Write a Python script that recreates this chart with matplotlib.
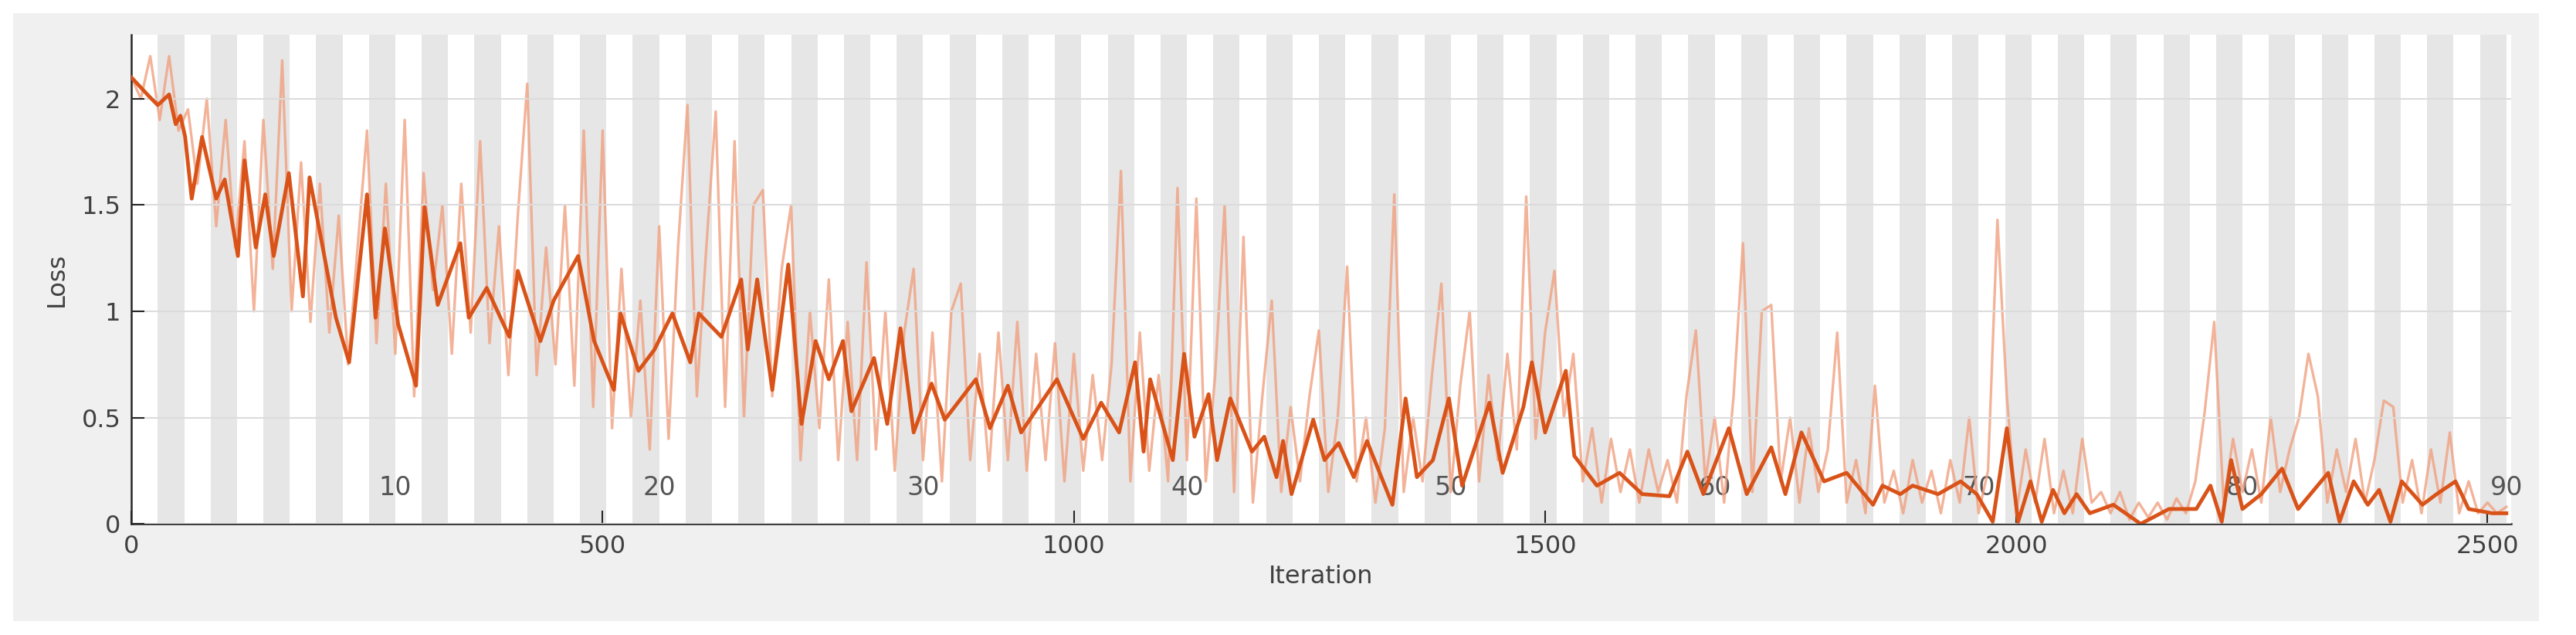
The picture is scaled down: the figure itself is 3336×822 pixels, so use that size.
import numpy as np
import matplotlib.pyplot as plt
from matplotlib.patches import Rectangle

iters_per_epoch = 28
n_epochs = 90
epoch_labels = [10, 20, 30, 40, 50, 60, 70, 80, 90]

# raw loss, sampled every 10 iterations (0..2520)
raw_step = 10
raw_loss = [
    2.1, 2.0, 2.2, 1.9, 2.2, 1.85, 1.95, 1.6, 2.0, 1.4,
    1.9, 1.3, 1.8, 1.0, 1.9, 1.2, 2.18, 1.0, 1.7, 0.95,
    1.6, 0.9, 1.45, 0.75, 1.3, 1.85, 0.85, 1.6, 0.8, 1.9,
    0.6, 1.65, 1.1, 1.5, 0.8, 1.6, 0.9, 1.8, 0.85, 1.4,
    0.7, 1.45, 2.07, 0.7, 1.3, 0.75, 1.5, 0.65, 1.85, 0.55,
    1.85, 0.45, 1.2, 0.5, 1.05, 0.35, 1.4, 0.4, 1.3, 1.97,
    0.6, 1.3, 1.94, 0.55, 1.8, 0.5, 1.5, 1.57, 0.6, 1.2,
    1.5, 0.3, 1.0, 0.45, 1.15, 0.3, 0.95, 0.3, 1.23, 0.35,
    1.0, 0.25, 0.9, 1.2, 0.3, 0.9, 0.2, 1.0, 1.13, 0.3,
    0.8, 0.25, 0.9, 0.3, 0.95, 0.25, 0.8, 0.3, 0.85, 0.2,
    0.8, 0.25, 0.7, 0.3, 0.75, 1.66, 0.2, 0.9, 0.25, 0.7,
    0.2, 1.58, 0.3, 1.53, 0.2, 0.7, 1.5, 0.15, 1.35, 0.1,
    0.6, 1.05, 0.15, 0.55, 0.2, 0.6, 0.91, 0.15, 0.5, 1.21,
    0.2, 0.5, 0.1, 0.45, 1.55, 0.15, 0.5, 0.2, 0.7, 1.13,
    0.15, 0.65, 1.0, 0.2, 0.7, 0.3, 0.8, 0.35, 1.54, 0.4,
    0.9, 1.19, 0.5, 0.8, 0.2, 0.45, 0.1, 0.4, 0.15, 0.35,
    0.1, 0.35, 0.15, 0.3, 0.1, 0.6, 0.91, 0.2, 0.5, 0.1,
    0.6, 1.32, 0.15, 1.0, 1.03, 0.2, 0.5, 0.1, 0.45, 0.15,
    0.35, 0.9, 0.1, 0.3, 0.05, 0.65, 0.1, 0.25, 0.05, 0.3,
    0.1, 0.25, 0.05, 0.3, 0.1, 0.5, 0.05, 0.25, 1.43, 0.6,
    0.05, 0.35, 0.1, 0.4, 0.05, 0.25, 0.05, 0.4, 0.1, 0.15,
    0.05, 0.15, 0.02, 0.1, 0.03, 0.1, 0.02, 0.12, 0.05, 0.2,
    0.53, 0.95, 0.1, 0.4, 0.15, 0.35, 0.1, 0.5, 0.15, 0.35,
    0.5, 0.8, 0.6, 0.1, 0.35, 0.15, 0.4, 0.1, 0.3, 0.58,
    0.55, 0.1, 0.3, 0.05, 0.35, 0.1, 0.43, 0.05, 0.2, 0.05,
    0.1, 0.05, 0.08,
]

# smoothed loss (iteration, value)
smooth_iter = [
    0, 19, 28, 40, 47, 52, 57, 64, 75, 90, 99, 113, 120, 132, 142, 151, 167, 182, 189,
    217, 231, 250, 259, 269, 283, 302, 311, 325, 349, 358, 377, 401, 410, 434, 448,
    474, 491, 512, 519, 538, 555, 574, 593, 602, 626, 647, 654, 664, 680, 697, 711,
    726, 740, 755, 764, 788, 802, 816, 830, 849, 863, 896, 911, 930, 944, 982, 1010,
    1029, 1048, 1065, 1074, 1081, 1105, 1117, 1128, 1143, 1152, 1166, 1189, 1202,
    1215, 1222, 1231, 1254, 1266, 1281, 1297, 1311, 1338, 1352, 1364, 1381, 1398,
    1412, 1441, 1455, 1477, 1486, 1500, 1522, 1531, 1555, 1579, 1603, 1632, 1651,
    1668, 1695, 1714, 1740, 1755, 1772, 1796, 1820, 1848, 1858, 1877, 1890, 1917,
    1941, 1958, 1975, 1990, 2002, 2015, 2027, 2039, 2051, 2064, 2078, 2103, 2132,
    2162, 2191, 2206, 2218, 2228, 2240, 2260, 2282, 2299, 2331, 2343, 2358, 2373,
    2385, 2397, 2409, 2431, 2446, 2466, 2480, 2505, 2520,
]
smooth_loss = [
    2.10, 2.01, 1.97, 2.02, 1.88, 1.92, 1.82, 1.53, 1.82, 1.53, 1.62, 1.26, 1.71, 1.30, 1.55, 1.26, 1.65, 1.07, 1.63,
    0.97, 0.76, 1.55, 0.97, 1.39, 0.94, 0.65, 1.49, 1.03, 1.32, 0.97, 1.11, 0.88, 1.19, 0.86, 1.05,
    1.26, 0.86, 0.63, 0.99, 0.72, 0.82, 0.99, 0.76, 0.99, 0.88, 1.15, 0.82, 1.15, 0.63, 1.22, 0.47,
    0.86, 0.68, 0.86, 0.53, 0.78, 0.47, 0.92, 0.43, 0.66, 0.49, 0.68, 0.45, 0.65, 0.43, 0.68, 0.40,
    0.57, 0.43, 0.76, 0.34, 0.68, 0.30, 0.80, 0.41, 0.61, 0.30, 0.59, 0.34, 0.41,
    0.22, 0.39, 0.14, 0.49, 0.30, 0.38, 0.22, 0.39, 0.09, 0.59, 0.22, 0.30, 0.59,
    0.18, 0.57, 0.24, 0.55, 0.76, 0.43, 0.72, 0.32, 0.18, 0.24, 0.14, 0.13, 0.34,
    0.14, 0.45, 0.14, 0.36, 0.14, 0.43, 0.20, 0.24, 0.09, 0.18, 0.14, 0.18, 0.14,
    0.20, 0.14, 0.01, 0.45, 0.01, 0.20, 0.01, 0.16, 0.05, 0.14, 0.05, 0.09, 0.00,
    0.07, 0.07, 0.18, 0.01, 0.30, 0.07, 0.14, 0.26, 0.07, 0.24, 0.01, 0.20, 0.09,
    0.16, 0.01, 0.20, 0.09, 0.14, 0.20, 0.07, 0.05, 0.05,
]

orange = '#D95319'
text_gray = '#404040'

fig = plt.figure(figsize=(33.37, 8.22), dpi=100, facecolor='white')
bg = fig.add_axes([17 / 3337, 18 / 822, 3271 / 3337, 787 / 822], zorder=0)
bg.set_axis_off()
bg.add_patch(Rectangle((0, 0), 1, 1, transform=bg.transAxes,
                       facecolor='#f0f0f0', edgecolor='none'))
ax = fig.add_axes([0.051, 0.175, 0.9235, 0.77], zorder=1)
ax.set_facecolor('white')

xmax = 2525
ymax = 2.3
for k in range(1, n_epochs + 1):
    if k % 2 == 0:
        ax.axvspan((k - 1) * iters_per_epoch, k * iters_per_epoch,
                   color='#e6e6e6', lw=0, zorder=0)
for e in epoch_labels:
    ax.text(e * iters_per_epoch, 0.17, str(e), ha='center', va='center',
            fontsize=24, color='#555555', zorder=1)

raw_x = np.arange(len(raw_loss)) * raw_step
ax.plot(raw_x, raw_loss, color='#f0a080', lw=2.4, alpha=0.8, zorder=2)
ax.plot(smooth_iter, smooth_loss, color=orange, lw=3.5, zorder=3)

ax.set_xlim(0, xmax)
ax.set_ylim(0, ymax)
ax.set_yticks([0, 0.5, 1, 1.5, 2])
ax.set_yticklabels(['0', '0.5', '1', '1.5', '2'])
ax.set_xticks([0, 500, 1000, 1500, 2000, 2500])
ax.yaxis.grid(True, color='#dcdcdc', lw=1.5, zorder=1)
ax.set_axisbelow(False)
ax.tick_params(direction='in', length=12, width=1.5, colors='#262626',
               labelsize=23, labelcolor=text_gray, pad=10)
for s in ['top', 'right']:
    ax.spines[s].set_visible(False)
for s in ['left', 'bottom']:
    ax.spines[s].set_color('#262626')
    ax.spines[s].set_linewidth(1.8)
ax.set_xlabel('Iteration', fontsize=23, color=text_gray, labelpad=6)
ax.set_ylabel('Loss', fontsize=23, color=text_gray, labelpad=12)

fig.savefig('out.png', dpi=100, facecolor=fig.get_facecolor())
